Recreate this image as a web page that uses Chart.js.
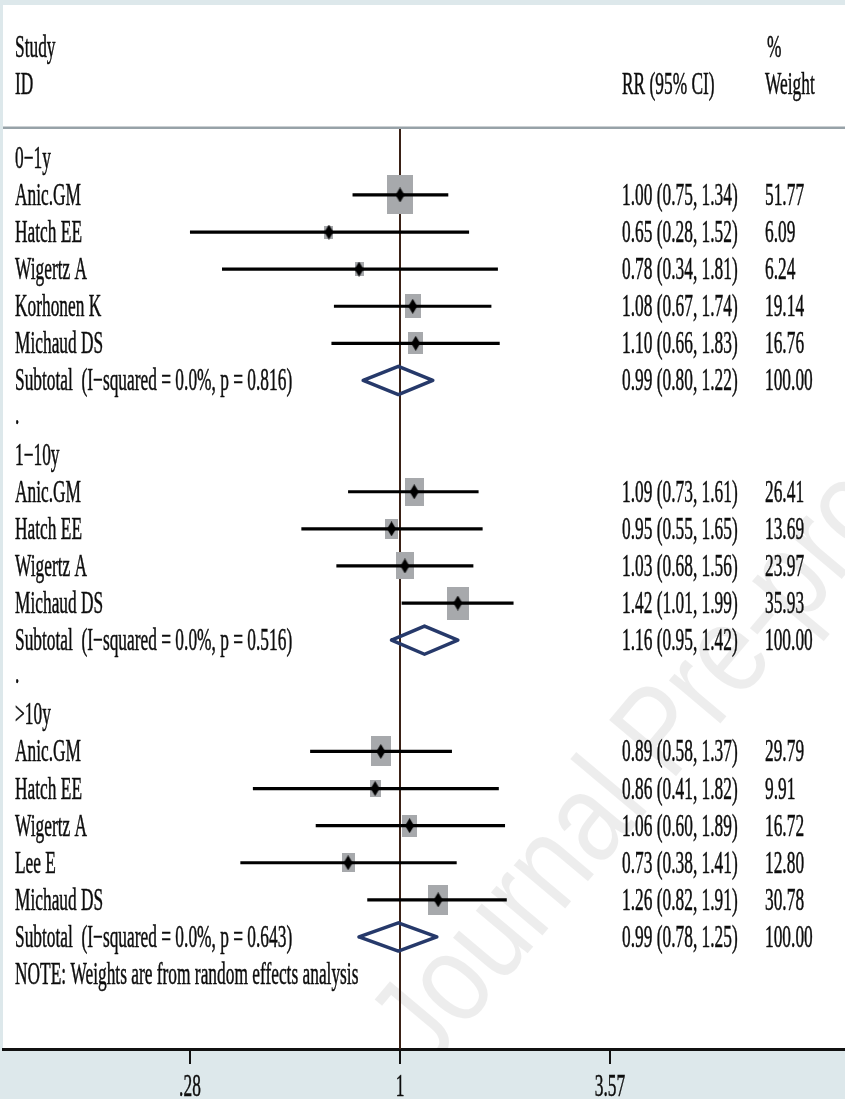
<!DOCTYPE html>
<html>
<head>
<meta charset="utf-8">
<script src="https://cdn.jsdelivr.net/npm/chart.js@4.4.0/dist/chart.umd.min.js"></script>
<style>
  html, body { margin: 0; padding: 0; background: #dde8eb; }
  #forestChart { display: block; }
</style>
</head>
<body>
<canvas id="forestChart" width="845" height="1099"></canvas>
<script>
/*****************************************************************
 *                        CHART DATA
 *****************************************************************/

// subgroup headings and the row they sit on
const groupLabels = ["0\u22121y", "1\u221210y", ">10y"];
const groupRows = [0, 8, 15];

// individual studies
const studyNames = [
  "Anic.GM", "Hatch EE", "Wigertz A", "Korhonen K", "Michaud DS",
  "Anic.GM", "Hatch EE", "Wigertz A", "Michaud DS",
  "Anic.GM", "Hatch EE", "Wigertz A", "Lee E", "Michaud DS",
];
const studyRows = [1, 2, 3, 4, 5, 9, 10, 11, 12, 16, 17, 18, 19, 20];
const studyRR = [1.00, 0.65, 0.78, 1.08, 1.10, 1.09, 0.95, 1.03, 1.42, 0.89, 0.86, 1.06, 0.73, 1.26];
const studyLow = [0.75, 0.28, 0.34, 0.67, 0.66, 0.73, 0.55, 0.68, 1.01, 0.58, 0.41, 0.60, 0.38, 0.82];
const studyHigh = [1.34, 1.52, 1.81, 1.74, 1.83, 1.61, 1.65, 1.56, 1.99, 1.37, 1.82, 1.89, 1.41, 1.91];
const studyWeight = [51.77, 6.09, 6.24, 19.14, 16.76, 26.41, 13.69, 23.97, 35.93, 29.79, 9.91, 16.72, 12.80, 30.78];

// pooled subtotals
const subtotalLabels = [
  "Subtotal  (I\u2212squared = 0.0%, p = 0.816)",
  "Subtotal  (I\u2212squared = 0.0%, p = 0.516)",
  "Subtotal  (I\u2212squared = 0.0%, p = 0.643)",
];
const subtotalRows = [6, 13, 21];
const subtotalRR = [0.99, 1.16, 0.99];
const subtotalLow = [0.80, 0.95, 0.78];
const subtotalHigh = [1.22, 1.42, 1.25];
const subtotalWeight = [100.00, 100.00, 100.00];

const spacerRows = [7, 14];
const noteText = "NOTE: Weights are from random effects analysis";
const noteRow = 22;

// x axis (relative risk, log scale)
const xTicks = [0.28, 1, 3.57];
const xTickLabels = [".28", "1", "3.57"];

/*****************************************************************
 *                        SETTINGS
 *****************************************************************/

const xMin = 0.09017;
const xMax = 14.834;
const yMin = -4.12;
const yMax = 24.02;
const headerLineRow = -0.81;

const textFont = '31px "Liberation Serif", "Times New Roman", serif';
const textSqueeze = 0.56;
const col = { label: 15, rr: 622, weight: 765 };

/*****************************************************************
 *                        MARKER IMAGES
 *****************************************************************/

function makeBox(weight) {
  const w = Math.max(3, Math.round(3.6 * Math.sqrt(weight)));
  const h = Math.max(5, Math.round(5.45 * Math.sqrt(weight)));
  const c = document.createElement("canvas");
  c.width = w;
  c.height = h;
  const g = c.getContext("2d");
  g.fillStyle = "#a7a9ac";
  g.fillRect(0, 0, w, h);
  return c;
}

function makeDot() {
  const c = document.createElement("canvas");
  c.width = 9;
  c.height = 15;
  const g = c.getContext("2d");
  g.fillStyle = "#000";
  g.beginPath();
  g.moveTo(4.5, 0);
  g.lineTo(9, 7.5);
  g.lineTo(4.5, 15);
  g.lineTo(0, 7.5);
  g.closePath();
  g.fill();
  return c;
}

const boxImages = studyWeight.map(makeBox);
const dotImage = makeDot();

/*****************************************************************
 *                        DATASETS
 *****************************************************************/

const gap = { x: null, y: null };

const ciSegments = [];
studyRows.forEach((r, i) => {
  ciSegments.push({ x: studyLow[i], y: r }, { x: studyHigh[i], y: r }, gap);
});

const diamondPaths = [];
subtotalRows.forEach((r, i) => {
  diamondPaths.push(
    { x: subtotalLow[i], y: r },
    { x: subtotalRR[i], y: r - 0.38 },
    { x: subtotalHigh[i], y: r },
    { x: subtotalRR[i], y: r + 0.38 },
    { x: subtotalLow[i], y: r },
    gap
  );
});

const points = studyRows.map((r, i) => ({ x: studyRR[i], y: r }));

const datasets = [
  {
    type: "line",
    data: [{ x: 1, y: headerLineRow }, { x: 1, y: yMax }],
    borderColor: "#3a2116",
    borderWidth: 2,
    pointRadius: 0,
    order: 7,
  },
  {
    type: "line",
    data: [{ x: xMin, y: headerLineRow }, { x: xMax, y: headerLineRow }],
    borderColor: "#97a2a8",
    borderWidth: 2.5,
    pointRadius: 0,
    order: 6,
  },
  {
    type: "scatter",
    data: points,
    pointStyle: (ctx) => boxImages[ctx.dataIndex],
    pointRadius: 5,
    order: 5,
  },
  {
    type: "line",
    data: ciSegments,
    borderColor: "#000",
    borderWidth: 3.2,
    pointRadius: 0,
    spanGaps: false,
    order: 4,
  },
  {
    type: "scatter",
    data: points,
    pointStyle: dotImage,
    pointRadius: 5,
    order: 3,
  },
  {
    type: "line",
    data: diamondPaths,
    borderColor: "#26396a",
    borderWidth: 3.5,
    borderJoinStyle: "round",
    borderCapStyle: "round",
    pointRadius: 0,
    spanGaps: false,
    order: 2,
  },
];

/*****************************************************************
 *                        PLUGINS
 *****************************************************************/

function squeezedText(ctx, text, x, y, align) {
  ctx.save();
  ctx.translate(x, y);
  ctx.scale(textSqueeze, 1);
  ctx.textAlign = align || "left";
  ctx.textBaseline = "alphabetic";
  ctx.fillText(text, 0, 0);
  ctx.strokeText(text, 0, 0);
  ctx.restore();
}

const panelPlugin = {
  id: "panel",
  beforeDraw(chart) {
    const { ctx, chartArea } = chart;
    ctx.save();
    ctx.fillStyle = "#dde8eb";
    ctx.fillRect(0, 0, chart.width, chart.height);
    ctx.fillStyle = "#ffffff";
    ctx.fillRect(chartArea.left, chartArea.top, chartArea.right - chartArea.left, chartArea.bottom - chartArea.top);
    ctx.restore();
  },
  beforeDatasetsDraw(chart) {
    // faint "Journal Pre-proof" watermark
    const { ctx, chartArea } = chart;
    ctx.save();
    ctx.beginPath();
    ctx.rect(chartArea.left, chartArea.top, chartArea.right - chartArea.left, chartArea.bottom - chartArea.top);
    ctx.clip();
    ctx.translate(428, 1072);
    ctx.rotate(-50 * Math.PI / 180);
    ctx.scale(1, 1.2);
    ctx.font = '106px "Liberation Sans", Arial, sans-serif';
    ctx.fillStyle = "rgba(0,0,0,0.07)";
    ctx.fillText("Journal Pre-proof", 0, 0);
    ctx.restore();
  },
};

const textPlugin = {
  id: "forestText",
  afterDatasetsDraw(chart) {
    const { ctx } = chart;
    const ys = chart.scales.y;
    const xs = chart.scales.x;
    const rowY = (r) => ys.getPixelForValue(r) + 10;

    ctx.save();
    ctx.font = textFont;
    ctx.fillStyle = "#0d0d0d";
    ctx.strokeStyle = "#0d0d0d";
    ctx.lineWidth = 0.5;

    // column headers
    squeezedText(ctx, "Study", col.label, rowY(-3));
    squeezedText(ctx, "ID", col.label, rowY(-2));
    squeezedText(ctx, "%", col.weight + 2, rowY(-3));
    squeezedText(ctx, "RR (95% CI)", col.rr, rowY(-2));
    squeezedText(ctx, "Weight", col.weight, rowY(-2));

    groupLabels.forEach((t, i) => squeezedText(ctx, t, col.label, rowY(groupRows[i])));
    spacerRows.forEach((r) => squeezedText(ctx, ".", col.label, rowY(r) - 4));

    studyNames.forEach((t, i) => {
      const y = rowY(studyRows[i]);
      squeezedText(ctx, t, col.label, y);
      squeezedText(ctx, studyRR[i].toFixed(2) + " (" + studyLow[i].toFixed(2) + ", " + studyHigh[i].toFixed(2) + ")", col.rr, y);
      squeezedText(ctx, studyWeight[i].toFixed(2), col.weight, y);
    });

    subtotalLabels.forEach((t, i) => {
      const y = rowY(subtotalRows[i]);
      squeezedText(ctx, t, col.label, y);
      squeezedText(ctx, subtotalRR[i].toFixed(2) + " (" + subtotalLow[i].toFixed(2) + ", " + subtotalHigh[i].toFixed(2) + ")", col.rr, y);
      squeezedText(ctx, subtotalWeight[i].toFixed(2), col.weight, y);
    });

    squeezedText(ctx, noteText, col.label, rowY(noteRow));

    // x tick labels
    xTicks.forEach((v, i) => {
      squeezedText(ctx, xTickLabels[i], xs.getPixelForValue(v), 1096, "center");
    });
    ctx.restore();
  },
};

/*****************************************************************
 *                        RENDER
 *****************************************************************/

const forestChart = new Chart(document.getElementById("forestChart"), {
  data: { datasets: datasets },
  options: {
    responsive: false,
    devicePixelRatio: 1,
    animation: false,
    events: [],
    layout: { autoPadding: false, padding: { left: 3, top: 5, right: 0, bottom: 35 } },
    plugins: { legend: { display: false }, tooltip: { enabled: false } },
    scales: {
      x: {
        type: "logarithmic",
        position: "bottom",
        min: xMin,
        max: xMax,
        bounds: "data",
        afterBuildTicks: (scale) => {
          scale.ticks = xTicks.map((v) => ({ value: v }));
        },
        ticks: { display: false },
        grid: { display: true, drawOnChartArea: false, drawTicks: true, tickLength: 15, color: "#111", lineWidth: 2 },
        border: { display: true, color: "#111", width: 3 },
      },
      y: {
        type: "linear",
        display: false,
        min: yMin,
        max: yMax,
        reverse: true,
      },
    },
  },
  plugins: [panelPlugin, textPlugin],
});
</script>
</body>
</html>
